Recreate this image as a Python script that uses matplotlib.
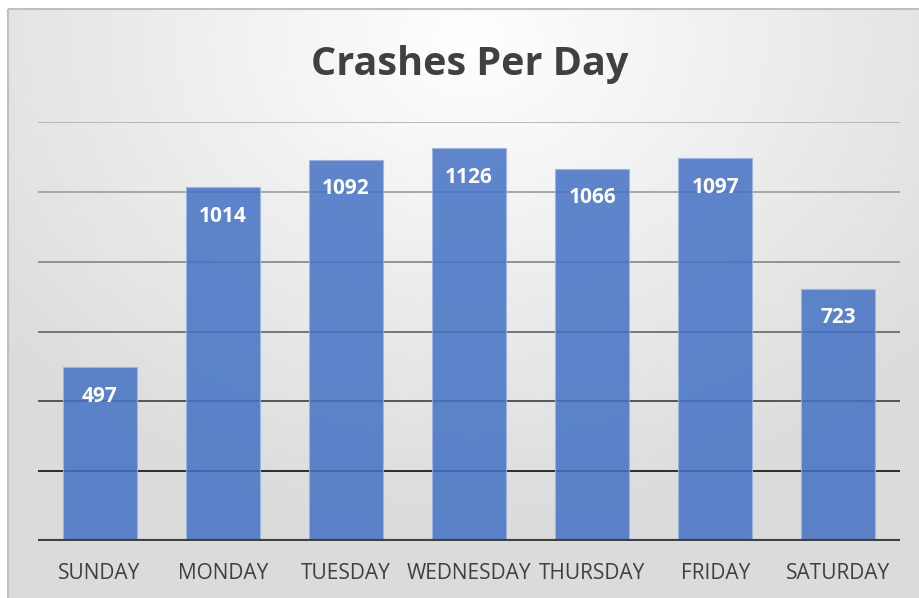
import numpy as np
import matplotlib.pyplot as plt
from matplotlib.patches import Rectangle

# データ
days = ["SUNDAY", "MONDAY", "TUESDAY", "WEDNESDAY", "THURSDAY", "FRIDAY", "SATURDAY"]
crashes = [497, 1014, 1092, 1126, 1066, 1097, 723]
grid_vals = [200, 400, 600, 800, 1000, 1200]
grid_cols = ["#1e1e1e", "#4a4a4a", "#6e6e6e", "#8c8c8c", "#a2a2a2", "#b4b4b4"]

plt.rcParams['font.family'] = ['Open Sans', 'DejaVu Sans']

fig = plt.figure(figsize=(9.2, 5.98), dpi=100)

# 背景のグラデーション
bg = fig.add_axes([0, 0, 1, 1])
W, H = 920, 598
yy, xx = np.mgrid[0:H, 0:W]
t = np.sqrt(((xx - 470) / 700.0) ** 2 + ((yy - 40) / 560.0) ** 2)
v = np.clip(1.0 - 0.16 * t, 0.86, 1.0)
v[:, :8] = 1.0
v[:9, :] = 1.0
bg.imshow(np.dstack([v, v, v]), extent=[0, W, H, 0], aspect='auto')
bg.add_patch(Rectangle((8, 9), 1000, 700, fill=False, edgecolor="#bfbfbf", lw=1.5))
bg.set_xlim(0, W)
bg.set_ylim(H, 0)
bg.axis('off')

ax = fig.add_axes([38 / 920, 57 / 598, 862 / 920, 419 / 598])
ax.patch.set_alpha(0)

for g, c in zip(grid_vals, grid_cols):
    ax.axhline(g, color=c, lw=1.3, zorder=1)
ax.axhline(0, color="#404040", lw=3, zorder=3)

x = np.arange(len(days))
bars = ax.bar(x, crashes, width=0.6, color="#4472C4", alpha=0.85,
              edgecolor="#9db5e0", linewidth=0.8, zorder=2)

for xi, val in zip(x, crashes):
    ax.annotate(str(val), (xi, val), xytext=(0, -21), textcoords='offset points',
                ha='center', va='center', color='white', fontsize=15, fontweight='bold')

ax.set_xlim(-0.5, len(days) - 0.5)
ax.set_ylim(0, 1200)
ax.set_xticks(x)
ax.set_xticklabels(days, fontsize=15, color="#404040")
ax.tick_params(axis='x', length=0, pad=16)
ax.set_yticks([])
for s in ax.spines.values():
    s.set_visible(False)

fig.text(470 / 920, 1 - 64 / 598, "Crashes Per Day", ha='center', va='center',
         fontsize=28.5, fontweight='bold', color="#404040")

fig.savefig("out.png", dpi=100)
